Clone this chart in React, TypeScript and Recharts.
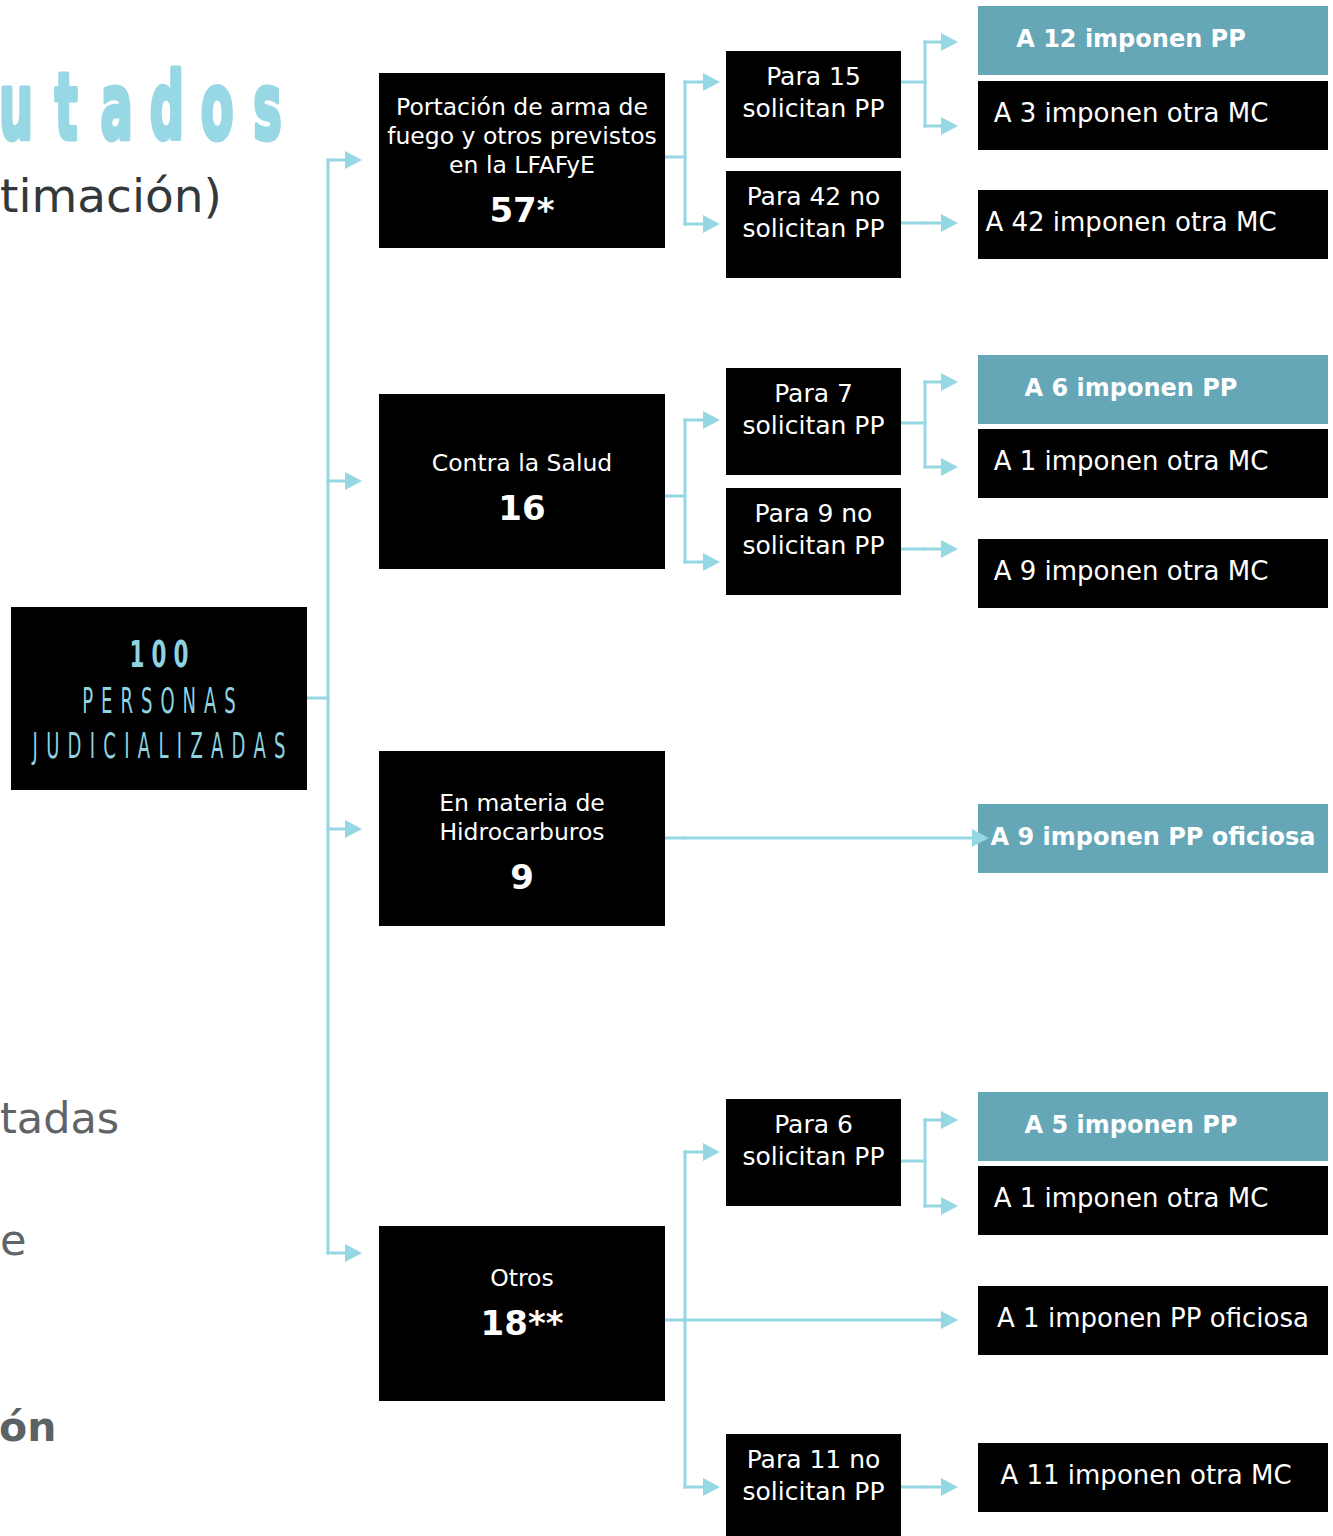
import { ScatterChart, Scatter, XAxis, YAxis, ReferenceLine, Customized } from 'recharts'

const ANCHO = 1333
const ALTO = 1536

// ---- datos ----
const TOTAL_PERSONAS = 100
const ETIQUETA_RAIZ = ['PERSONAS', 'JUDICIALIZADAS']

const DELITOS = [
    ['Portación de arma de', 'fuego y otros previstos', 'en la LFAFyE'],
    ['Contra la Salud'],
    ['En materia de', 'Hidrocarburos'],
    ['Otros'],
]
const PERSONAS_POR_DELITO = ['57*', '16', '9', '18**']

// por delito; null = esa rama no existe
const SOLICITAN_PP = [15, 7, null, 6]
const NO_SOLICITAN_PP = [42, 9, null, 11]
const IMPONEN_PP = [12, 6, null, 5]
const IMPONEN_OTRA_MC = [3, 1, null, 1]
const OTRA_MC_SIN_SOLICITUD = [42, 9, null, 11]
const PP_OFICIOSA = [null, null, 9, 1]

// restos de texto de la página, recortados por la izquierda
const TITULO = 'utados'
const SUBTITULO = 'timación)'
const NOTAS = ['tadas', 'e']
const NOTA_NEGRITA = 'ón'

// ---- estilo y maquetación (px) ----
const CIAN = '#96d7e4'
const CIAN_TEXTO = '#8fd3e0'
const TEAL = '#65a6b7'
const FUENTE = '"DejaVu Sans", sans-serif'

const COL = {
    raiz: { x: 11, w: 296 },
    delito: { x: 379, w: 286 },
    solicitud: { x: 726, w: 175 },
    medida: { x: 978, w: 350 },
}
const BUS_X = [328, 685, 925]
const PUNTA_X = [362, 720, 958]

const RAIZ_TOP = 607
const RAIZ_SALE = 698
const DELITO_TOP = [73, 394, 751, 1226]
const DELITO_ENTRA = [160, 481, 829, 1253]
const DELITO_SALE = [157, 496, 838, 1320]
const DELITO_TEXTO = [42, 77, 60, 60]
const SOL_TOP = [51, 368, null, 1099]
const SOL_ENTRA = [82, 420, null, 1152]
const SOL_SALE = [82, 423, null, 1161]
const NOSOL_TOP = [171, 488, null, 1434]
const NOSOL_ENTRA = [224, 562, null, 1487]
const NOSOL_SALE = [223, 549, null, 1487]
const PP_TOP = [6, 355, null, 1092]
const PP_ENTRA = [42, 382, null, 1120]
const OTRA_TOP = [81, 429, null, 1166]
const OTRA_ENTRA = [126, 467, null, 1206]
const SIN_TOP = [190, 539, null, 1443]
const OFICIOSA_TOP = [null, null, 804, 1286]

type Nodo = {
    x: number; y: number; w: number; h: number
    tipo: 'raiz' | 'delito' | 'solicitud' | 'medida'
    lineas: string[]; cifra?: string; destacado?: boolean; dyTexto?: number; cxTexto?: number
}

const nodos: Nodo[] = []
const tramos: { x1: number; y1: number; x2: number; y2: number }[] = []
const puntas: { x: number; y: number }[] = []

function caja(col: { x: number; w: number }, top: number, h: number, tipo: Nodo['tipo'], lineas: string[], extra: Partial<Nodo> = {}) {
    nodos.push({ x: col.x + col.w / 2, y: top + h / 2, w: col.w, h, tipo, lineas, ...extra })
}

function rama(xDesde: number, ySale: number, xBus: number, hijos: { y: number; punta: number }[]) {
    tramos.push({ x1: xDesde, y1: ySale, x2: xBus, y2: ySale })
    const ys = [ySale, ...hijos.map(h => h.y)]
    if (Math.max(...ys) > Math.min(...ys)) tramos.push({ x1: xBus, y1: Math.min(...ys), x2: xBus, y2: Math.max(...ys) })
    hijos.forEach(h => {
        tramos.push({ x1: xBus, y1: h.y, x2: h.punta - 8, y2: h.y })
        puntas.push({ x: h.punta, y: h.y })
    })
}

caja(COL.raiz, RAIZ_TOP, 183, 'raiz', ETIQUETA_RAIZ, { cifra: String(TOTAL_PERSONAS) })
rama(COL.raiz.x + COL.raiz.w, RAIZ_SALE, BUS_X[0], DELITO_ENTRA.map(y => ({ y, punta: PUNTA_X[0] })))

DELITOS.forEach((lineas, i) => {
    caja(COL.delito, DELITO_TOP[i], 175, 'delito', lineas, { cifra: PERSONAS_POR_DELITO[i], dyTexto: DELITO_TEXTO[i] })
    const hijos: { y: number; punta: number }[] = []
    const finDelito = COL.delito.x + COL.delito.w
    const finSol = COL.solicitud.x + COL.solicitud.w

    if (SOLICITAN_PP[i] !== null) {
        caja(COL.solicitud, SOL_TOP[i]!, 107, 'solicitud', [`Para ${SOLICITAN_PP[i]}`, 'solicitan PP'])
        hijos.push({ y: SOL_ENTRA[i]!, punta: PUNTA_X[1] })
        caja(COL.medida, PP_TOP[i]!, 69, 'medida', [`A ${IMPONEN_PP[i]} imponen PP`], { destacado: true, cxTexto: 1131 })
        caja(COL.medida, OTRA_TOP[i]!, 69, 'medida', [`A ${IMPONEN_OTRA_MC[i]} imponen otra MC`], { cxTexto: 1131 })
        rama(finSol, SOL_SALE[i]!, BUS_X[2], [{ y: PP_ENTRA[i]!, punta: PUNTA_X[2] }, { y: OTRA_ENTRA[i]!, punta: PUNTA_X[2] }])
    }
    if (PP_OFICIOSA[i] !== null) {
        const destacado = SOLICITAN_PP[i] === null
        caja(COL.medida, OFICIOSA_TOP[i]!, 69, 'medida', [`A ${PP_OFICIOSA[i]} imponen PP oficiosa`], { destacado, cxTexto: 1153 })
        hijos.push({ y: DELITO_SALE[i], punta: destacado ? 989 : PUNTA_X[2] })
    }
    if (NO_SOLICITAN_PP[i] !== null) {
        caja(COL.solicitud, NOSOL_TOP[i]!, 107, 'solicitud', [`Para ${NO_SOLICITAN_PP[i]} no`, 'solicitan PP'])
        hijos.push({ y: NOSOL_ENTRA[i]!, punta: PUNTA_X[1] })
        caja(COL.medida, SIN_TOP[i]!, 69, 'medida', [`A ${OTRA_MC_SIN_SOLICITUD[i]} imponen otra MC`], { cxTexto: i === 3 ? 1146 : 1131 })
        rama(finSol, NOSOL_SALE[i]!, BUS_X[2], [{ y: NOSOL_SALE[i]!, punta: PUNTA_X[2] }])
    }
    rama(finDelito, DELITO_SALE[i], BUS_X[1], hijos)
})

function Condensada({ x, y, texto, size, espacio, escala, peso }: { x: number; y: number; texto: string; size: number; espacio: number; escala: number; peso?: string }) {
    const ls = espacio / escala
    return (
        <text transform={`translate(${x},${y}) scale(${escala},1)`} textAnchor="middle" dx={ls / 2}
            fontFamily={FUENTE} fontSize={size} fontWeight={peso} letterSpacing={ls} fill={CIAN_TEXTO}>
            {texto}
        </text>
    )
}

function Caja(props: any) {
    const { cx, cy, payload } = props
    const n = payload as Nodo
    const x = cx - n.w / 2
    const y = cy - n.h / 2
    const fondo = n.destacado ? TEAL : '#000'

    if (n.tipo === 'raiz') {
        return (
            <g>
                <rect x={x} y={y} width={n.w} height={n.h} fill="#000" />
                <Condensada x={cx} y={cy - 31.5} texto={n.cifra!} size={37} espacio={7} escala={0.58} peso="bold" />
                <Condensada x={cx} y={cy + 14.5} texto={n.lineas[0]} size={36} espacio={8} escala={0.5} />
                <Condensada x={cx} y={cy + 59.5} texto={n.lineas[1]} size={36} espacio={8.3} escala={0.5} />
            </g>
        )
    }
    if (n.tipo === 'delito') {
        const y0 = y + (n.dyTexto ?? 60)
        return (
            <g fontFamily={FUENTE} fill="#fff" textAnchor="middle">
                <rect x={x} y={y} width={n.w} height={n.h} fill="#000" />
                {n.lineas.map((l, i) => (
                    <text key={i} x={cx} y={y0 + i * 29} fontSize={23.5}>{l}</text>
                ))}
                <text x={cx} y={y0 + (n.lineas.length - 1) * 29 + 49} fontSize={34} fontWeight="bold">{n.cifra}</text>
            </g>
        )
    }
    if (n.tipo === 'solicitud') {
        return (
            <g fontFamily={FUENTE} fill="#fff" textAnchor="middle">
                <rect x={x} y={y} width={n.w} height={n.h} fill="#000" />
                <text x={cx} y={y + 34} fontSize={25}>{n.lineas[0]}</text>
                <text x={cx} y={y + 66} fontSize={25}>{n.lineas[1]}</text>
            </g>
        )
    }
    return (
        <g fontFamily={FUENTE} fill="#fff" textAnchor="middle">
            <rect x={x} y={y} width={n.w} height={n.h} fill={fondo} />
            <text x={n.cxTexto ?? cx} y={cy + 6} fontSize={n.destacado ? 24 : 26} fontWeight={n.destacado ? 'bold' : 'normal'}>
                {n.lineas[0]}
            </text>
        </g>
    )
}

function Punta(props: any) {
    const { cx, cy } = props
    return <polygon points={`${cx},${cy} ${cx - 17},${cy - 9} ${cx - 17},${cy + 9}`} fill={CIAN} />
}

function Decoracion() {
    return (
        <g fontFamily={FUENTE}>
            {TITULO.split('').map((c, i) => (
                <text key={i} transform={`translate(${16 + i * 50.3},139) scale(0.52,1)`} textAnchor="middle"
                    fontWeight="bold" fontSize={92} fill="#98d8e4" stroke="#98d8e4" strokeWidth={5} strokeLinejoin="round">{c}</text>
            ))}
            <text x={0} y={212} fontSize={47} fill="#33393b">{SUBTITULO}</text>
            <text x={0} y={1133} fontSize={43} fill="#5f6567">{NOTAS[0]}</text>
            <text x={0} y={1255} fontSize={43} fill="#5f6567">{NOTAS[1]}</text>
            <text x={-1} y={1441} fontSize={41} fontWeight="bold" fill="#5c6263">{NOTA_NEGRITA}</text>
        </g>
    )
}

export default function App() {
    return (
        <div style={{ position: 'absolute', left: 0, top: 0, width: ANCHO, height: ALTO, background: '#fff' }}>
            <ScatterChart width={ANCHO} height={ALTO} margin={{ top: 0, right: 0, bottom: 0, left: 0 }}>
                <XAxis type="number" dataKey="x" domain={[0, ANCHO]} allowDataOverflow hide />
                <YAxis type="number" dataKey="y" domain={[0, ALTO]} allowDataOverflow reversed hide />
                <Customized component={Decoracion} />
                {tramos.map((t, i) => (
                    <ReferenceLine key={i} segment={[{ x: t.x1, y: t.y1 }, { x: t.x2, y: t.y2 }]}
                        stroke={CIAN} strokeWidth={3} strokeLinecap="square" ifOverflow="visible" />
                ))}
                <Scatter data={nodos} shape={Caja} isAnimationActive={false} />
                <Scatter data={puntas} shape={Punta} isAnimationActive={false} />
            </ScatterChart>
        </div>
    )
}
